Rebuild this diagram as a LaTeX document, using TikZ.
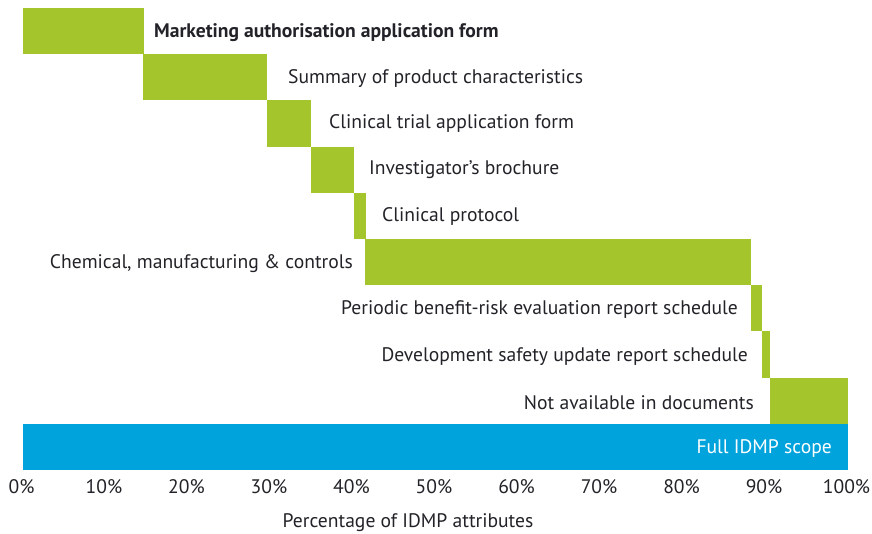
\documentclass[tikz,border=0pt]{standalone}
\usepackage{fontspec}
\setmainfont{PT Sans}
\definecolor{barg}{RGB}{165,197,45}
\definecolor{barb}{RGB}{0,163,220}
\definecolor{txt}{RGB}{34,34,40}
\begin{document}
\begin{tikzpicture}[x=1pt,y=-1pt,
  gbar/.style={fill=barg},
  lbl/.style={font=\fontsize{19.6}{23}\selectfont, text=txt, inner sep=0pt},
  tick/.style={font=\fontsize{19.6}{23}\selectfont, text=txt, inner sep=0pt, anchor=center}]
\useasboundingbox (0,0) rectangle (872,533);
% bars
\fill[gbar] (23,8) rectangle (143.5,54);
\fill[gbar] (143,54) rectangle (267,100);
\fill[gbar] (267,100) rectangle (311,146.5);
\fill[gbar] (311,146.5) rectangle (354,192.5);
\fill[gbar] (354,192.5) rectangle (365.5,238.5);
\fill[gbar] (365,238.5) rectangle (751,284.5);
\fill[gbar] (751,284.5) rectangle (762,331);
\fill[gbar] (761.5,331) rectangle (770,377.5);
\fill[gbar] (770,377.5) rectangle (848,424);
\fill[barb] (23,424) rectangle (848,470);
% labels
\node[lbl, anchor=west, font=\fontsize{19.6}{23}\selectfont\bfseries] (l1) at (154,33) {Marketing authorisation application form};
\node[lbl, anchor=west] (l2) at (288,79) {Summary of product characteristics};
\node[lbl, anchor=west] (l3) at (329,123) {Clinical trial application form};
\node[lbl, anchor=west] (l4) at (369,170) {Investigator’s brochure};
\node[lbl, anchor=west] (l5) at (382,216) {Clinical protocol};
\node[lbl, anchor=east] (l6) at (353,264) {Chemical, manufacturing \& controls};
\node[lbl, anchor=east] (l7) at (738,310) {Periodic benefit-risk evaluation report schedule};
\node[lbl, anchor=east] (l8) at (748,357) {Development safety update report schedule};
\node[lbl, anchor=east] (l9) at (754,403) {Not available in documents};
\node[lbl, anchor=east, text=white] (l10) at (832,449) {Full IDMP scope};
% axis
\foreach \p in {0,10,...,100}{
  \node[tick] (t\p) at ({23+8.25*\p-1.5},487) {\p\%};
}
\node[lbl, anchor=center] (xl) at (408,523) {Percentage of IDMP attributes};
\end{tikzpicture}
\end{document}
